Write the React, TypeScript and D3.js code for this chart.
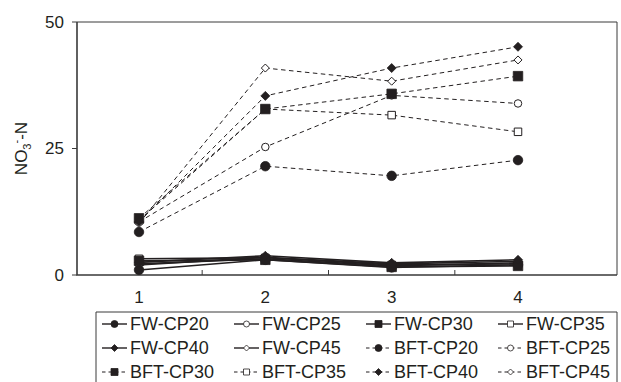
import { useEffect, useRef } from "react";
import * as d3 from "d3";

// sampling time (x) and NO3--N values
const periods = [1, 2, 3, 4];
const yTicks = [0, 25, 50];

const fwCp20 = [1.0, 3.0, 1.5, 2.0];
const fwCp25 = [2.2, 3.2, 1.8, 2.4];
const fwCp30 = [2.8, 3.0, 1.6, 1.8];
const fwCp35 = [3.2, 3.4, 2.0, 2.2];
const fwCp40 = [2.5, 3.8, 2.4, 3.0];
const fwCp45 = [2.0, 3.5, 2.2, 2.7];
const bftCp20 = [8.5, 21.5, 19.6, 22.7];
const bftCp25 = [10.5, 25.3, 35.5, 33.9];
const bftCp30 = [11.2, 32.8, 35.8, 39.3];
const bftCp35 = [10.8, 32.8, 31.6, 28.3];
const bftCp40 = [10.5, 35.4, 40.9, 45.1];
const bftCp45 = [10.2, 40.9, 38.3, 42.5];

const seriesNames = [
  "FW-CP20", "FW-CP25", "FW-CP30", "FW-CP35", "FW-CP40", "FW-CP45",
  "BFT-CP20", "BFT-CP25", "BFT-CP30", "BFT-CP35", "BFT-CP40", "BFT-CP45",
];
const seriesValues = [
  fwCp20, fwCp25, fwCp30, fwCp35, fwCp40, fwCp45,
  bftCp20, bftCp25, bftCp30, bftCp35, bftCp40, bftCp45,
];

type Shape = "circle" | "square" | "diamond";
const shapes: Shape[] = ["circle", "circle", "square", "square", "diamond", "diamond"];

const INK = "#231f20";
const AXIS = "#3a3a3a";
const FONT = "'Liberation Sans', Arial, sans-serif";

const W = 621;
const H = 382;
const PLOT = { left: 77, right: 617, top: 22, bottom: 275 };

function markerPath(shape: Shape, s: number) {
  const h = s / 2;
  if (shape === "circle") {
    return `M${h},0A${h},${h} 0 1,1 ${-h},0A${h},${h} 0 1,1 ${h},0Z`;
  }
  if (shape === "square") return `M${-h},${-h}H${h}V${h}H${-h}Z`;
  return `M0,${-h}L${h},0L0,${h}L${-h},0Z`;
}

export default function App() {
  const ref = useRef<SVGSVGElement>(null);

  useEffect(() => {
    if (!ref.current) return;
    const svg = d3.select(ref.current);
    svg.selectAll("*").remove();

    const x = d3.scaleLinear().domain([1, 4]).range([139, 518]);
    const y = d3.scaleLinear().domain([0, 50]).range([PLOT.bottom, PLOT.top]);

    const series = seriesNames.map((name, i) => ({
      name,
      values: seriesValues[i],
      shape: shapes[i % 6],
      filled: i % 2 === 0,
      dashed: name.startsWith("BFT"),
    }));

    // plot frame
    svg.append("path")
      .attr("d", `M${PLOT.left},${PLOT.top}H${PLOT.right}V${PLOT.bottom}`)
      .attr("fill", "none").attr("stroke", AXIS).attr("stroke-width", 1);
    svg.append("path")
      .attr("d", `M${PLOT.left},${PLOT.top}V${PLOT.bottom}H${PLOT.right}`)
      .attr("fill", "none").attr("stroke", AXIS).attr("stroke-width", 1.6);

    // y axis
    const yAxis = svg.append("g");
    yAxis.selectAll("line").data(yTicks).join("line")
      .attr("x1", PLOT.left - 5).attr("x2", PLOT.left)
      .attr("y1", (d) => y(d)).attr("y2", (d) => y(d))
      .attr("stroke", AXIS).attr("stroke-width", 1);
    yAxis.selectAll("text").data(yTicks).join("text")
      .attr("x", PLOT.left - 13).attr("y", (d) => y(d)).attr("dy", "0.35em")
      .attr("text-anchor", "end").attr("font-family", FONT).attr("font-size", 17)
      .attr("fill", INK).text((d) => d);

    // x axis: ticks between categories, labels at categories
    const between = periods.slice(0, -1).map((p) => p + 0.5);
    svg.append("g").selectAll("line").data(between).join("line")
      .attr("x1", (d) => x(d)).attr("x2", (d) => x(d))
      .attr("y1", PLOT.bottom - 5).attr("y2", PLOT.bottom)
      .attr("stroke", AXIS).attr("stroke-width", 1);
    svg.append("g").selectAll("text").data(periods).join("text")
      .attr("x", (d) => x(d)).attr("y", 303).attr("text-anchor", "middle")
      .attr("font-family", FONT).attr("font-size", 17).attr("fill", INK)
      .text((d) => d);

    // y title NO3--N
    const title = svg.append("text")
      .attr("transform", `translate(27,${(PLOT.top + PLOT.bottom) / 2}) rotate(-90)`)
      .attr("text-anchor", "middle").attr("font-family", FONT).attr("font-size", 17)
      .attr("fill", INK);
    title.append("tspan").text("NO");
    title.append("tspan").attr("dy", 4).attr("font-size", 11).text("3");
    title.append("tspan").attr("dy", -11).attr("font-size", 11).text("-");
    title.append("tspan").attr("dy", 7).text("-N");

    // lines
    const line = d3.line<number>().x((_, i) => x(periods[i])).y((d) => y(d));
    svg.append("g").selectAll("path").data(series).join("path")
      .attr("d", (s) => line(s.values))
      .attr("fill", "none").attr("stroke", INK)
      .attr("stroke-width", (s) => (s.dashed ? 1 : 1.6))
      .attr("stroke-dasharray", (s) => (s.dashed ? "4.5 3.5" : null));

    // markers: open ones first, filled on top
    const ordered = [...series.filter((s) => !s.filled), ...series.filter((s) => s.filled)];
    const sizeOf = (s: { shape: Shape; filled: boolean }) =>
      s.shape === "circle" ? (s.filled ? 9.5 : 7.5) : s.shape === "square" ? (s.filled ? 9.5 : 7.5) : (s.filled ? 9 : 8);
    ordered.forEach((s) => {
      svg.append("g").selectAll("path").data(s.values).join("path")
        .attr("transform", (d, i) => `translate(${x(periods[i])},${y(d)})`)
        .attr("d", markerPath(s.shape, sizeOf(s)))
        .attr("fill", s.filled ? INK : "#fff")
        .attr("stroke", INK).attr("stroke-width", s.filled ? 0.8 : 1);
    });

    // legend
    const LEG = { left: 96, top: 312, colW: 132, rowH: 24 };
    svg.append("path")
      .attr("d", `M${LEG.left},${H + 2}V${LEG.top}H${PLOT.right}V${H + 2}`)
      .attr("fill", "none").attr("stroke", AXIS).attr("stroke-width", 1);
    series.forEach((s, i) => {
      const col = i % 4;
      const row = Math.floor(i / 4);
      const tx = 130 + col * LEG.colW;
      const cy = LEG.top + 12 + row * LEG.rowH;
      const g = svg.append("g");
      g.append("line")
        .attr("x1", tx - 28).attr("x2", tx - 3).attr("y1", cy).attr("y2", cy)
        .attr("stroke", INK).attr("stroke-width", s.dashed ? 1 : 1.4)
        .attr("stroke-dasharray", s.dashed ? "3.5 3" : null);
      g.append("path")
        .attr("transform", `translate(${tx - 15.5},${cy})`)
        .attr("d", markerPath(s.shape, s.filled ? 7 : 6))
        .attr("fill", s.filled ? INK : "#fff").attr("stroke", INK).attr("stroke-width", 0.8);
      g.append("text")
        .attr("x", tx).attr("y", cy).attr("dy", "0.36em")
        .attr("font-family", FONT).attr("font-size", 18).attr("fill", INK)
        .text(s.name);
    });
  }, []);

  return (
    <svg
      ref={ref}
      width={W}
      height={H}
      viewBox={`0 0 ${W} ${H}`}
      style={{ position: "fixed", left: 0, top: 0, background: "#fff" }}
    />
  );
}
